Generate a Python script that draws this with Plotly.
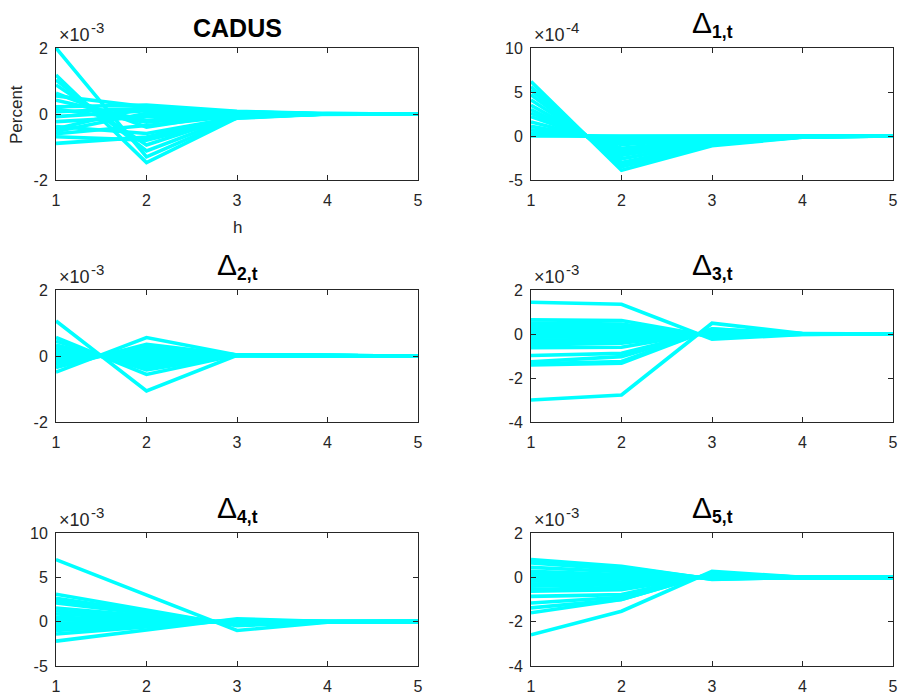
import plotly.graph_objects as go

W, H = 899, 698

# horizon
h = [1, 2, 3, 4, 5]

# ---- data (each line: values at h=1..5, in units of the panel's exponent) ----
cadus_lines = [  # x 1e-3
    [2.00, -1.30, -0.10, 0.00, 0.00],
    [1.18, -1.47, -0.12, 0.01, 0.00],
    [1.03, -1.12, -0.08, 0.00, 0.00],
    [0.88, -0.94, -0.05, 0.00, 0.00],
    [0.63, -0.40, 0.02, 0.00, 0.00],
    [0.42, -0.20, 0.05, 0.00, 0.00],
    [0.22, 0.27, 0.08, 0.01, 0.00],
    [0.07, 0.17, 0.06, 0.00, 0.00],
    [-0.08, 0.10, 0.04, 0.00, 0.00],
    [-0.23, -0.08, 0.00, 0.00, 0.00],
    [-0.38, -0.59, -0.10, 0.00, 0.00],
    [-0.53, 0.02, 0.03, 0.00, 0.00],
    [-0.69, -0.79, -0.13, 0.00, 0.00],
    [-0.89, -0.70, -0.08, 0.00, 0.00],
    [0.15, -0.25, -0.02, 0.00, 0.00],
    [-0.45, 0.20, 0.07, 0.00, 0.00],
    [0.55, 0.22, 0.06, 0.00, 0.00],
    [-0.60, -0.35, -0.06, 0.00, 0.00],
]

delta1_lines = [  # x 1e-4
    [6.2, -3.9, -1.10, -0.15, 0.0],
    [5.6, -3.5, -1.00, -0.12, 0.0],
    [5.2, -3.3, -0.90, -0.10, 0.0],
    [4.7, -3.0, -0.85, -0.10, 0.0],
    [4.1, -2.6, -0.75, -0.08, 0.0],
    [3.5, -2.2, -0.60, -0.07, 0.0],
    [3.0, -1.9, -0.50, -0.05, 0.0],
    [2.6, -1.6, -0.45, -0.05, 0.0],
    [2.2, -1.4, -0.40, -0.04, 0.0],
    [1.6, -1.0, -0.30, -0.03, 0.0],
    [1.1, -0.7, -0.20, -0.02, 0.0],
    [0.7, -0.45, -0.12, -0.01, 0.0],
    [0.3, -0.2, -0.05, 0.0, 0.0],
    [0.1, -0.05, 0.0, 0.0, 0.0],
    [0.0, 0.0, 0.0, 0.0, 0.0],
]

delta2_lines = [  # x 1e-3
    [1.06, -1.06, 0.02, 0.01, 0.0],
    [0.56, -0.56, 0.03, 0.01, 0.0],
    [0.45, -0.42, 0.02, 0.01, 0.0],
    [0.33, -0.35, 0.02, 0.01, 0.0],
    [0.25, -0.27, 0.02, 0.01, 0.0],
    [0.18, -0.18, 0.02, 0.01, 0.0],
    [0.10, -0.10, 0.02, 0.01, 0.0],
    [0.03, -0.03, 0.02, 0.01, 0.0],
    [-0.05, 0.05, 0.02, 0.01, 0.0],
    [-0.12, 0.13, 0.02, 0.01, 0.0],
    [-0.20, 0.20, 0.02, 0.01, 0.0],
    [-0.27, 0.30, 0.03, 0.01, 0.0],
    [-0.35, 0.35, 0.03, 0.01, 0.0],
    [-0.49, 0.56, 0.03, 0.01, 0.0],
]

delta3_lines = [  # x 1e-3
    [1.44, 1.35, -0.24, -0.02, 0.0],
    [0.64, 0.61, -0.11, -0.01, 0.0],
    [0.50, 0.45, -0.08, 0.0, 0.0],
    [0.38, 0.41, -0.07, 0.0, 0.0],
    [0.30, 0.28, -0.05, 0.0, 0.0],
    [0.18, 0.18, -0.03, 0.0, 0.0],
    [0.08, 0.07, -0.01, 0.0, 0.0],
    [-0.05, -0.04, 0.01, 0.0, 0.0],
    [-0.15, -0.13, 0.02, 0.0, 0.0],
    [-0.27, -0.25, 0.04, 0.0, 0.0],
    [-0.40, -0.38, 0.07, 0.0, 0.0],
    [-0.50, -0.42, 0.07, 0.0, 0.0],
    [-0.62, -0.60, 0.10, 0.0, 0.0],
    [-0.98, -0.88, 0.15, 0.01, 0.0],
    [-1.26, -1.03, 0.18, 0.01, 0.0],
    [-1.35, -1.25, 0.22, 0.01, 0.0],
    [-1.41, -1.33, 0.23, 0.01, 0.0],
    [-3.00, -2.77, 0.49, 0.02, 0.0],
]

delta4_lines = [  # x 1e-3
    [7.00, 3.00, -1.00, -0.05, 0.0],
    [3.10, 1.35, -0.45, -0.03, 0.0],
    [2.65, 1.15, -0.38, -0.03, 0.0],
    [2.40, 1.00, -0.34, -0.02, 0.0],
    [2.10, 0.90, -0.30, -0.02, 0.0],
    [1.55, 0.65, -0.22, -0.02, 0.0],
    [1.20, 0.50, -0.17, -0.01, 0.0],
    [0.86, 0.35, -0.12, -0.01, 0.0],
    [0.50, 0.20, -0.07, 0.0, 0.0],
    [0.20, 0.10, -0.03, 0.0, 0.0],
    [-0.15, -0.05, 0.02, 0.0, 0.0],
    [-0.45, -0.20, 0.06, 0.0, 0.0],
    [-0.70, -0.30, 0.10, 0.0, 0.0],
    [-1.00, -0.42, 0.14, 0.01, 0.0],
    [-1.40, -0.60, 0.20, 0.01, 0.0],
    [-2.20, -0.95, 0.32, 0.02, 0.0],
]

delta5_lines = [  # x 1e-3
    [0.80, 0.50, -0.09, 0.0, 0.0],
    [0.72, 0.45, -0.08, 0.0, 0.0],
    [0.65, 0.35, -0.06, 0.0, 0.0],
    [0.45, 0.25, -0.04, 0.0, 0.0],
    [0.27, 0.12, -0.02, 0.0, 0.0],
    [0.15, 0.05, -0.01, 0.0, 0.0],
    [0.05, 0.00, 0.00, 0.0, 0.0],
    [-0.05, -0.05, 0.01, 0.0, 0.0],
    [-0.18, -0.10, 0.02, 0.0, 0.0],
    [-0.30, -0.20, 0.035, 0.0, 0.0],
    [-0.40, -0.33, 0.06, 0.0, 0.0],
    [-0.55, -0.45, 0.08, 0.0, 0.0],
    [-0.63, -0.56, 0.10, 0.0, 0.0],
    [-0.86, -0.78, 0.14, 0.0, 0.0],
    [-1.16, -0.90, 0.16, 0.0, 0.0],
    [-1.38, -1.00, 0.18, 0.0, 0.0],
    [-1.60, -1.00, 0.18, 0.0, 0.0],
    [-2.59, -1.53, 0.27, 0.0, 0.0],
]

titles = ["<b>CADUS</b>",
          "<span style='font-size:30px'>Δ</span><sub><b>1,t</b></sub>",
          "<span style='font-size:30px'>Δ</span><sub><b>2,t</b></sub>",
          "<span style='font-size:30px'>Δ</span><sub><b>3,t</b></sub>",
          "<span style='font-size:30px'>Δ</span><sub><b>4,t</b></sub>",
          "<span style='font-size:30px'>Δ</span><sub><b>5,t</b></sub>"]
exponents = ["-3", "-4", "-3", "-3", "-3", "-3"]
y_ranges = [[-2, 2], [-5, 10], [-2, 2], [-4, 2], [-5, 10], [-4, 2]]
y_ticks = [[-2, 0, 2], [-5, 0, 5, 10], [-2, 0, 2], [-4, -2, 0, 2], [-5, 0, 5, 10], [-4, -2, 0, 2]]
x_ticks = [1, 2, 3, 4, 5]
all_lines = [cadus_lines, delta1_lines, delta2_lines, delta3_lines, delta4_lines, delta5_lines]

# ---- layout geometry (pixels) ----
col_x = [(56, 418), (531, 893)]
row_y = [(48, 180), (290, 422), (533, 666)]

FONT = "Liberation Sans, Arial, Helvetica, sans-serif"
DARK = "#262626"
CYAN = "#00FFFF"

fig = go.Figure()
layout = dict(width=W, height=H, margin=dict(l=0, r=0, t=0, b=0, autoexpand=False),
              paper_bgcolor="white", plot_bgcolor="white", showlegend=False,
              font=dict(family=FONT, size=16, color=DARK))
annotations = []

def py(y):
    return 1 - y / H

for i in range(6):
    r, c = divmod(i, 2)
    x0, x1 = col_x[c]
    y0, y1 = row_y[r]
    sfx = "" if i == 0 else str(i + 1)
    for ln in all_lines[i]:
        fig.add_trace(go.Scatter(x=h, y=ln, mode="lines",
                                 line=dict(color=CYAN, width=3.6),
                                 xaxis="x" + sfx, yaxis="y" + sfx,
                                 hoverinfo="skip"))
    common = dict(showline=True, linecolor=DARK, linewidth=1, mirror="allticks",
                  ticks="inside", ticklen=5, tickcolor=DARK, tickwidth=1,
                  showgrid=False, zeroline=False, automargin=False,
                  tickfont=dict(family=FONT, size=16, color=DARK))
    layout["xaxis" + sfx] = dict(common, domain=[x0 / W, x1 / W], range=[1, 5],
                                 tickvals=x_ticks, ticktext=[str(t) for t in x_ticks],
                                 anchor="y" + sfx, ticklabelstandoff=6)
    layout["yaxis" + sfx] = dict(common, domain=[py(y1), py(y0)],
                                 range=y_ranges[i], tickvals=y_ticks[i],
                                 ticktext=[str(t) for t in y_ticks[i]],
                                 anchor="x" + sfx, ticklabelstandoff=4)
    # exponent label: "×10" and raised exponent
    annotations.append(dict(text="×10", x=(x0 + 1) / W, y=py(y0 - 1),
                            xref="paper", yref="paper",
                            xanchor="left", yanchor="bottom", showarrow=False,
                            font=dict(family=FONT, size=18, color=DARK)))
    annotations.append(dict(text=exponents[i], x=(x0 + 33) / W, y=py(y0 - 10),
                            xref="paper", yref="paper",
                            xanchor="left", yanchor="bottom", showarrow=False,
                            font=dict(family=FONT, size=15, color=DARK)))
    # title
    if i == 0:
        annotations.append(dict(text=titles[i], x=(x0 + x1) / 2 / W, y=py(28),
                                xref="paper", yref="paper", xanchor="center",
                                yanchor="middle", showarrow=False,
                                font=dict(family=FONT, size=25, color="black")))
    else:
        annotations.append(dict(text=titles[i], x=(x0 + x1) / 2 / W,
                                y=py(y0 - 24),
                                xref="paper", yref="paper", xanchor="center",
                                yanchor="middle", showarrow=False,
                                font=dict(family=FONT, size=25, color="black")))

# axis labels for first panel
annotations.append(dict(text="Percent", x=16 / W, y=py(115), xref="paper", yref="paper",
                        textangle=-90, showarrow=False, xanchor="center", yanchor="middle",
                        font=dict(family=FONT, size=17, color=DARK)))
annotations.append(dict(text="h", x=237 / W, y=py(227), xref="paper", yref="paper",
                        showarrow=False, xanchor="center", yanchor="middle",
                        font=dict(family=FONT, size=17, color=DARK)))

layout["annotations"] = annotations
fig.update_layout(**layout)
fig.write_html("out.html", config={"displayModeBar": False},
               post_script="document.body.style.margin='0';document.body.style.overflow='hidden';")
